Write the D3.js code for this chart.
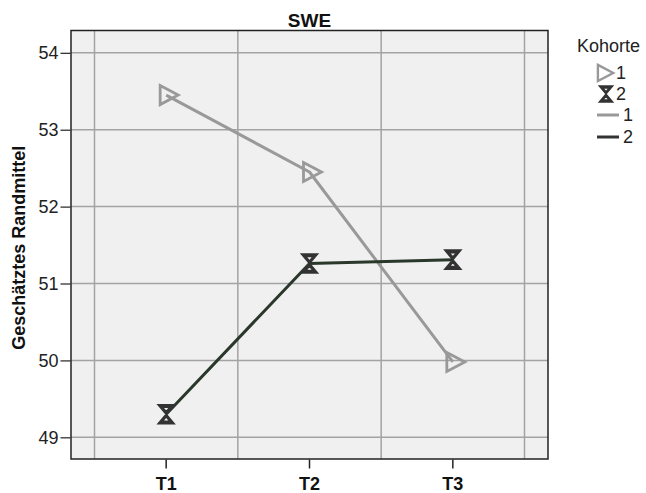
<!DOCTYPE html>
<html>
<head>
<meta charset="utf-8">
<script src="https://cdn.jsdelivr.net/npm/d3@7"></script>
<style>
  html, body { margin: 0; padding: 0; background: #fff; }
  svg { display: block; font-family: "Liberation Sans", Arial, sans-serif; }
</style>
</head>
<body>
<svg id="chart" width="646" height="493"></svg>
<script>
// Estimated marginal means of SWE per cohort over three time points
const timepoints = ["T1", "T2", "T3"];
const cohortNames = ["1", "2"];
const cohort1 = [53.45, 52.45, 49.98];
const cohort2 = [49.30, 51.26, 51.31];
const yTicks = [49, 50, 51, 52, 53, 54];

const svg = d3.select("#chart");
const frame = { left: 71, right: 548, top: 30.5, bottom: 459 };
const pad = 23.5; // space between frame and outer category borders

const x = d3.scaleBand()
  .domain(timepoints)
  .range([frame.left + pad, frame.right - pad])
  .paddingInner(0).paddingOuter(0);
const xc = d => x(d) + x.bandwidth() / 2;

const y = d3.scaleLinear()
  .domain([48.718, 54.29])
  .range([frame.bottom, frame.top]);

// plot background
svg.append("rect")
  .attr("x", frame.left).attr("y", frame.top)
  .attr("width", frame.right - frame.left).attr("height", frame.bottom - frame.top)
  .attr("fill", "#f0f0f0");

// horizontal gridlines
svg.append("g").selectAll("line").data(yTicks).join("line")
  .attr("x1", frame.left).attr("x2", frame.right)
  .attr("y1", d => y(d)).attr("y2", d => y(d))
  .attr("stroke", "#a3a3a3").attr("stroke-width", 1.5);

// vertical gridlines on category borders
const borders = timepoints.map(d => x(d)).concat([x(timepoints[2]) + x.bandwidth()]);
svg.append("g").selectAll("line").data(borders).join("line")
  .attr("x1", d => d).attr("x2", d => d)
  .attr("y1", frame.top).attr("y2", frame.bottom)
  .attr("stroke", "#a3a3a3").attr("stroke-width", 1.5);

// frame
svg.append("rect")
  .attr("x", frame.left).attr("y", frame.top)
  .attr("width", frame.right - frame.left).attr("height", frame.bottom - frame.top)
  .attr("fill", "none").attr("stroke", "#222").attr("stroke-width", 1.5);

// y axis
const yAxis = d3.axisLeft(y).tickValues(yTicks).tickSize(10).tickPadding(2).tickFormat(d3.format("d"));
const gy = svg.append("g").attr("transform", `translate(${frame.left - 0.5},0)`).call(yAxis);
gy.select(".domain").remove();
gy.selectAll(".tick line").attr("stroke", "#222").attr("stroke-width", 1.2);
gy.selectAll(".tick text").attr("font-size", 18).attr("fill", "#222")
  .attr("font-family", "Liberation Sans, Arial, sans-serif");

// x axis
const xAxis = d3.axisBottom(x).tickSize(9).tickPadding(0);
const gx = svg.append("g").attr("transform", `translate(0,${frame.bottom + 0.5})`).call(xAxis);
gx.select(".domain").remove();
gx.selectAll(".tick line").attr("stroke", "#222").attr("stroke-width", 1.5);
gx.selectAll(".tick text").attr("font-size", 18).attr("font-weight", "bold").attr("fill", "#111")
  .attr("font-family", "Liberation Sans, Arial, sans-serif")
  .attr("dy", null).attr("y", 30);

// title
svg.append("text")
  .attr("x", (frame.left + frame.right) / 2).attr("y", 27)
  .attr("text-anchor", "middle").attr("font-size", 19).attr("font-weight", "bold")
  .attr("fill", "#111").text("SWE");

// y axis title
svg.append("text")
  .attr("transform", `translate(25,${(frame.top + frame.bottom) / 2 + 3}) rotate(-90)`)
  .attr("text-anchor", "middle").attr("font-size", 18).attr("font-weight", "bold")
  .attr("fill", "#111").text("Geschätztes Randmittel");

// marker shapes: outlined right-pointing triangle and an hourglass with small cut-out centres
const triPath = "M-6,-9.5 L12,0 L-6,9.5 Z";
const hourPath =
  "M-8,-9.5 L8,-9.5 L0,0 Z M-8,9.5 L8,9.5 L0,0 Z " +
  "M-3.8,-7 L3.8,-7 L0,-2.6 Z M-3.8,7 L3.8,7 L0,2.6 Z";

const series = [
  { name: cohortNames[0], values: cohort1, line: "#999999", legendLine: "#999999",
    shape: triPath, fill: "none", stroke: "#999999", sw: 2.8 },
  { name: cohortNames[1], values: cohort2, line: "#2a382b", legendLine: "#333333",
    shape: hourPath, fill: "#333333", stroke: "#333333", sw: 1.6 }
];

const line = d3.line().x((d, i) => xc(timepoints[i])).y(d => y(d));

// lines
series.forEach(s => {
  svg.append("path").datum(s.values)
    .attr("d", line).attr("fill", "none")
    .attr("stroke", s.line).attr("stroke-width", 3).attr("stroke-linejoin", "round");
});

// markers
const drawMarker = (sel, s) => sel
  .attr("d", s.shape).attr("fill", s.fill).attr("fill-rule", "evenodd")
  .attr("stroke", s.stroke).attr("stroke-width", s.sw)
  .attr("stroke-linejoin", "miter").attr("stroke-miterlimit", 4);

series.forEach(s => {
  svg.append("g").selectAll("path").data(s.values).join("path")
    .attr("transform", (d, i) => `translate(${xc(timepoints[i])},${y(d)})`)
    .call(drawMarker, s);
});

// legend
const lg = svg.append("g");
lg.append("text").attr("x", 577).attr("y", 52).attr("font-size", 18).attr("fill", "#222").text("Kohorte");
const legendRows = [
  { y: 73, type: "marker", s: series[0] },
  { y: 94, type: "marker", s: series[1] },
  { y: 115, type: "line", s: series[0] },
  { y: 137, type: "line", s: series[1] }
];
legendRows.forEach(r => {
  if (r.type === "marker") {
    lg.append("path")
      .attr("transform", `translate(${r.s === series[0] ? 603 : 606},${r.y}) scale(0.85)`)
      .call(drawMarker, r.s);
  } else {
    lg.append("line").attr("x1", 597).attr("x2", 619).attr("y1", r.y).attr("y2", r.y)
      .attr("stroke", r.s.legendLine).attr("stroke-width", 3);
  }
  lg.append("text").attr("x", r.type === "line" ? 623 : 616).attr("y", r.y + 6)
    .attr("font-size", 18).attr("fill", "#222").text(r.s.name);
});
</script>
</body>
</html>
